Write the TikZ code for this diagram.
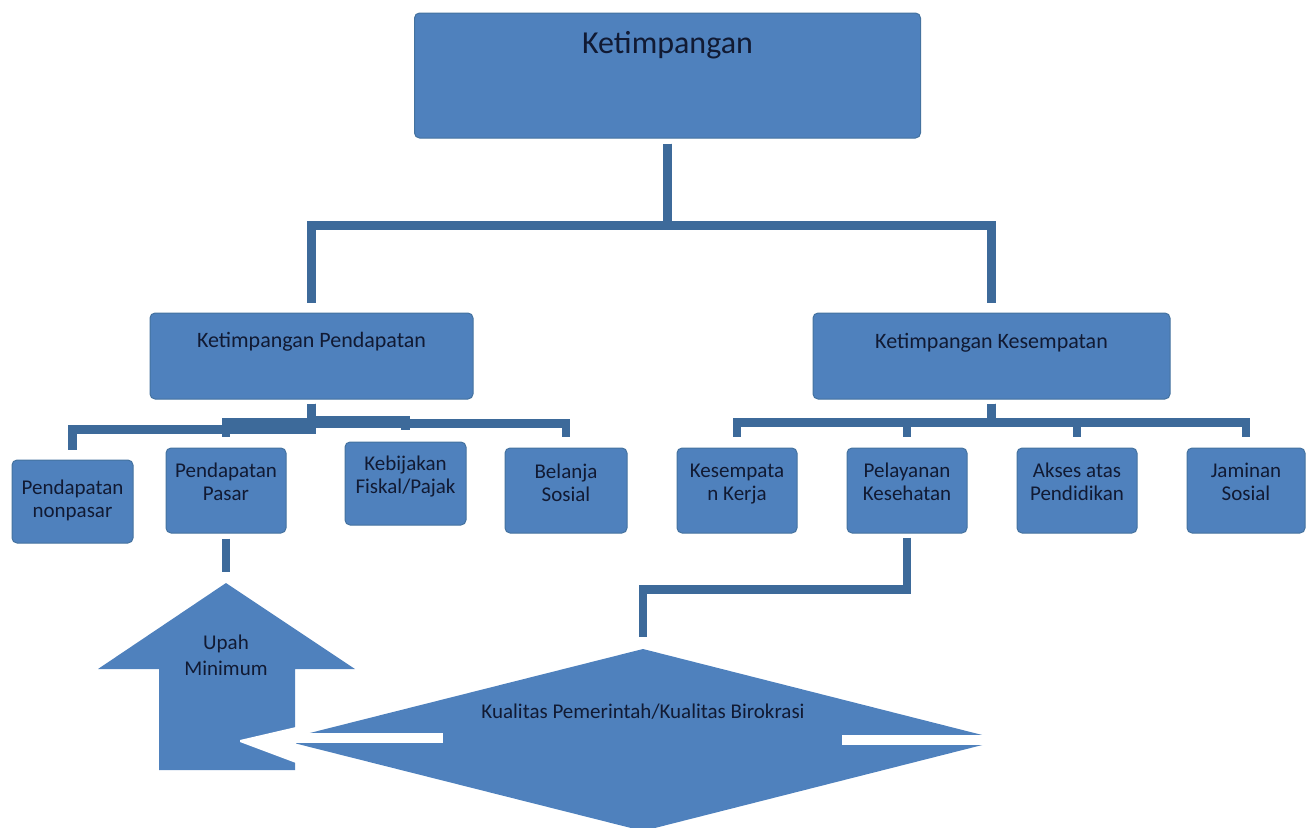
\documentclass[tikz,border=0pt]{standalone}
\usepackage{fontspec}
\setmainfont{Carlito}
\usetikzlibrary{calc}
\definecolor{boxblue}{HTML}{4F81BD}
\definecolor{edgeblue}{HTML}{44729F}
\definecolor{connblue}{HTML}{3D6A9A}
\definecolor{txt}{HTML}{111A33}
\newcommand{\tb}[4]{\parbox[c][#2pt][t]{#1pt}{\centering\rule{0pt}{#3pt}#4}}
\begin{document}
\begin{tikzpicture}[x=1pt,y=-1pt,
  box/.style={fill=boxblue, draw=edgeblue, line width=1pt, rounded corners=5pt, inner sep=0pt, text=txt, font=\fontsize{21}{23}\selectfont},
  conn/.style={draw=connblue, line width=8.5pt, line join=miter, line cap=butt},
  shapefill/.style={fill=boxblue},
  lbl/.style={text=txt, font=\fontsize{21}{26}\selectfont, align=center, inner sep=0pt}]
\useasboundingbox (0,0) rectangle (1316,827);

% boxes
\node[box] (top) at (667.5,75.5) {\tb{506}{125}{40}{\fontsize{32}{34}\selectfont Ketimpangan}};
\node[box] (kp) at (311.5,356) {\tb{323}{86}{34}{\fontsize{22}{24}\selectfont Ketimpangan Pendapatan}};
\node[box] (kk) at (991.5,356) {\tb{357}{86}{35}{\fontsize{22}{24}\selectfont Ketimpangan Kesempatan}};

\node[box] (np) at (72.5,501.5) {\tb{121}{83}{34}{Pendapatan\\nonpasar}};
\node[box] (ps) at (226,490.5) {\tb{120}{85}{29}{Pendapatan\\Pasar}};
\node[box] (kb) at (405.5,483.5) {\tb{121}{83}{28}{Kebijakan\\Fiskal/Pajak}};
\node[box] (bs) at (566,490.5) {\tb{122}{85}{30}{Belanja\\Sosial}};
\node[box] (ke) at (737,490.5) {\tb{120}{85}{29}{Kesempata\\n Kerja}};
\node[box] (pl) at (907,490.5) {\tb{120}{85}{29}{Pelayanan\\Kesehatan}};
\node[box] (ak) at (1077,490.5) {\tb{120}{85}{29}{Akses atas\\Pendidikan}};
\node[box] (js) at (1246,490.5) {\tb{118}{85}{29}{Jaminan\\Sosial}};

% top level connectors
\draw[conn, shorten <=5pt, shorten >=10pt] (top.south) -- ++(0,87) -| (kp.north);
\draw[conn, shorten <=5pt, shorten >=10pt] (top.south) -- ++(0,87) -| (kk.north);

% Ketimpangan Kesempatan children
\foreach \c in {ke,pl,ak,js}
  \draw[conn, shorten <=4pt, shorten >=11pt] (kk.south) -- ++(0,23) -| (\c.north);

% Ketimpangan Pendapatan children
\draw[conn, shorten <=4pt, shorten >=10pt] (kp.south) -- ++(0,30) -| (np.north);
\draw[conn, shorten <=4pt, shorten >=11pt] (kp.south) -- ++(0,23) -| (ps.north);
\draw[conn, shorten <=4pt, shorten >=12pt] (kp.south) -- ++(0,21) -| (kb.north);
\draw[conn, shorten <=4pt, shorten >=11pt] (kp.south) -- ++(0,24) -| (bs.north);

% Upah Minimum arrow
\coordinate (tip) at (226,583);
\fill[shapefill] (tip) -- (355,669) -- (295,669) -- (295,770) -- (159,770) -- (159,669) -- (98,669) -- cycle;
\node[lbl] (upah) at (226,655) {Upah\\Minimum};
\draw[conn, shorten <=5pt, shorten >=11pt] (ps.south) -- (tip);

% diamond
\coordinate (dtop) at (643,649);
\fill[shapefill] (dtop) -- (1002,740) -- (643,831) -- (282,740) -- cycle;
\node[lbl] (kual) at (643,712) {Kualitas Pemerintah/Kualitas Birokrasi};
\draw[conn, shorten <=4pt, shorten >=12pt] (pl.south) -- ++(0,56) -| (dtop);

% white arrow marks
\fill[white] (296,733) rectangle (443,743);
\fill[white] (240,740) -- (296,727) -- (296,763) -- (240,742) -- cycle;
\fill[white] (842,735) rectangle (1004,745);
\end{tikzpicture}
\end{document}
